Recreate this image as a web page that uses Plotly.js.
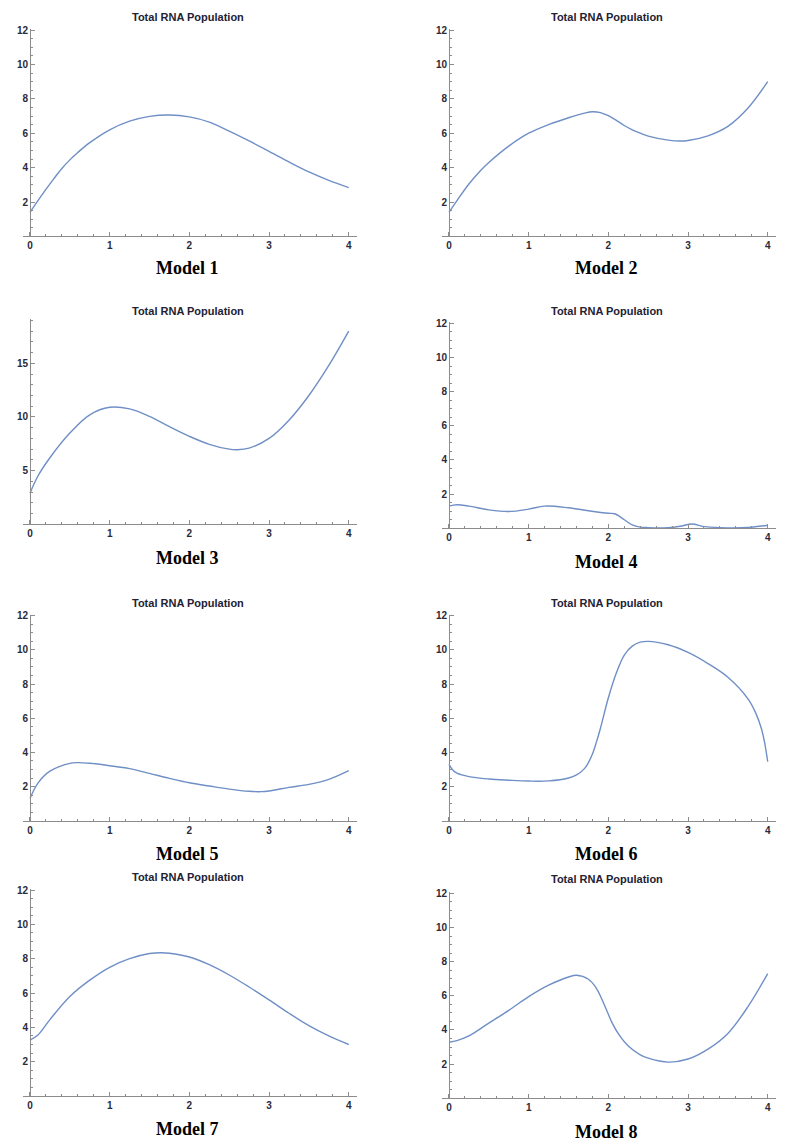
<!DOCTYPE html>
<html>
<head>
<meta charset="utf-8">
<script src="https://cdn.plot.ly/plotly-3.0.1.min.js"></script>
<style>html,body{margin:0;padding:0;background:#fff;}#chart{width:790px;height:1144px;}</style>
</head>
<body>
<div id="chart"></div>
<script>
// ---- Data ----
const modelNames = ["Model 1","Model 2","Model 3","Model 4","Model 5","Model 6","Model 7","Model 8"];
const plotTitle = "Total RNA Population";
const xTickVals = [0,1,2,3,4];

const model1X = [0,0.1,0.2,0.3,0.4,0.5,0.6,0.75,1,1.25,1.5,1.75,2,2.25,2.5,2.75,3,3.25,3.5,3.75,4];
const model1Y = [1.4,2.08,2.73,3.36,3.95,4.45,4.88,5.45,6.2,6.7,6.98,7.06,6.95,6.65,6.12,5.55,4.95,4.33,3.75,3.26,2.84];

const model2X = [0,0.1,0.25,0.4,0.5,0.75,1,1.25,1.5,1.7,1.8,1.9,2.0,2.1,2.2,2.3,2.4,2.5,2.75,2.9,3,3.25,3.5,3.75,4];
const model2Y = [1.4,2.08,3.05,3.85,4.3,5.25,6.0,6.5,6.9,7.17,7.25,7.2,7.02,6.75,6.45,6.2,6.0,5.83,5.6,5.55,5.58,5.85,6.4,7.45,9.0];

const model3X = [0,0.1,0.25,0.5,0.75,1,1.25,1.5,1.75,2,2.25,2.5,2.6,2.75,3,3.25,3.5,3.75,4];
const model3Y = [2.9,4.5,6.2,8.5,10.2,10.9,10.75,10.05,9.1,8.2,7.45,7.0,6.95,7.1,8.0,9.7,12.0,14.8,18.0];

const model4X = [0,0.1,0.25,0.5,0.75,1,1.2,1.5,1.75,2,2.08,2.2,2.3,2.4,2.5,2.75,2.9,3.05,3.2,3.4,3.75,4];
const model4Y = [1.3,1.38,1.3,1.08,0.98,1.12,1.3,1.2,1.03,0.88,0.85,0.5,0.2,0.07,0.04,0.04,0.12,0.25,0.1,0.04,0.05,0.18];

const model5X = [0,0.1,0.25,0.5,0.6,0.75,1,1.25,1.5,1.75,2,2.25,2.5,2.75,2.9,3,3.25,3.5,3.75,4];
const model5Y = [1.3,2.2,2.9,3.36,3.4,3.36,3.22,3.05,2.77,2.48,2.22,2.03,1.85,1.72,1.7,1.74,1.95,2.13,2.42,2.93];

const model6X = [0,0.05,0.1,0.25,0.5,0.75,1,1.25,1.5,1.6,1.7,1.75,1.8,1.85,1.9,2.0,2.1,2.2,2.3,2.4,2.5,2.75,3,3.25,3.5,3.75,3.85,3.92,3.96,4];
const model6Y = [3.3,2.95,2.78,2.58,2.44,2.37,2.32,2.33,2.5,2.68,3.05,3.4,3.9,4.6,5.4,7.2,8.65,9.7,10.22,10.45,10.5,10.3,9.85,9.2,8.4,7.15,6.3,5.4,4.6,3.45];

const model7X = [0,0.1,0.25,0.5,0.75,1,1.25,1.5,1.65,1.75,2,2.25,2.5,2.75,3,3.25,3.5,3.75,4];
const model7Y = [3.26,3.55,4.45,5.8,6.75,7.5,8.0,8.3,8.35,8.32,8.1,7.65,7.05,6.35,5.6,4.82,4.1,3.5,3.0];

const model8X = [0,0.1,0.25,0.5,0.75,1,1.25,1.5,1.6,1.75,1.85,1.95,2.05,2.15,2.25,2.4,2.5,2.75,3,3.25,3.5,3.75,4];
const model8Y = [3.28,3.38,3.65,4.4,5.15,5.95,6.62,7.1,7.2,6.97,6.44,5.46,4.39,3.61,3.06,2.54,2.35,2.12,2.3,2.88,3.8,5.35,7.3];

const seriesX = [model1X,model2X,model3X,model4X,model5X,model6X,model7X,model8X];
const seriesY = [model1Y,model2Y,model3Y,model4Y,model5Y,model6Y,model7Y,model8Y];
const yMax = [12.06,12.06,19.1,12.06,12.06,12.06,12.06,12.06];
const yTicks = [[2,4,6,8,10,12],[2,4,6,8,10,12],[5,10,15],[2,4,6,8,10,12],[2,4,6,8,10,12],[2,4,6,8,10,12],[2,4,6,8,10,12],[2,4,6,8,10,12]];
const yMinor = [0.5,0.5,1,0.5,0.5,0.5,0.5,0.5];

// ---- Layout geometry (pixels) ----
const W = 790, H = 1144;
const fx = v => v / W, fy = v => 1 - v / H;
const cols = [
  {x0: 23.3, x1: 356.7, yAxisX: 30, center: 188},
  {x0: 442.3, x1: 775.7, yAxisX: 449, center: 607}
];
const rows = [
  {top: 29, bot: 236.4, titleY: 17, capY: 268},
  {top: 29, bot: 236.4, titleY: 17, capY: 268},
  {top: 319.3, bot: 524.3, titleY: 310.7, capY: 558.5},
  {top: 322.3, bot: 528.3, titleY: 310.5, capY: 561.5},
  {top: 614.7, bot: 820.7, titleY: 602.7, capY: 854},
  {top: 614.7, bot: 820.7, titleY: 602.7, capY: 854},
  {top: 889, bot: 1096, titleY: 877.3, capY: 1128.5},
  {top: 892.3, bot: 1098.3, titleY: 879.3, capY: 1131.5}
];

const axisColor = '#8c8c8c';
const tickFont = {family: 'Liberation Sans, Arial, sans-serif', size: 10, color: '#2a2a3a', weight: 'bold'};

const traces = [];
const layout = {
  width: W, height: H,
  margin: {l: 0, r: 0, t: 0, b: 0},
  paper_bgcolor: '#fff', plot_bgcolor: '#fff',
  showlegend: false,
  annotations: []
};

for (let i = 0; i < 8; i++) {
  const n = i + 1;
  const c = cols[i % 2], r = rows[i];
  const xk = n === 1 ? 'xaxis' : 'xaxis' + n;
  const yk = n === 1 ? 'yaxis' : 'yaxis' + n;
  const xr = n === 1 ? 'x' : 'x' + n;
  const yr = n === 1 ? 'y' : 'y' + n;
  traces.push({
    x: seriesX[i], y: seriesY[i], xaxis: xr, yaxis: yr,
    type: 'scatter', mode: 'lines',
    line: {color: '#6f8fc6', width: 1.4, shape: 'spline', smoothing: 1},
    hoverinfo: 'skip'
  });
  layout[xk] = {
    domain: [fx(c.x0), fx(c.x1)], anchor: yr, range: [-0.084, 4.1],
    showline: true, linecolor: axisColor, linewidth: 1,
    showgrid: false, zeroline: false,
    tickmode: 'array', tickvals: xTickVals, ticktext: xTickVals.map(String),
    ticks: 'inside', ticklen: 4, tickcolor: axisColor, tickwidth: 1,
    minor: {dtick: 0.2, tick0: 0, ticks: 'inside', ticklen: 2, tickcolor: axisColor, showgrid: false},
    tickfont: tickFont, fixedrange: true
  };
  layout[yk] = {
    domain: [fy(r.bot), fy(r.top)], anchor: 'free', position: fx(c.yAxisX),
    range: [0, yMax[i]],
    showline: true, linecolor: axisColor, linewidth: 1,
    showgrid: false, zeroline: false,
    tickmode: 'array', tickvals: yTicks[i], ticktext: yTicks[i].map(String),
    ticks: 'inside', ticklen: 4, tickcolor: axisColor, tickwidth: 1,
    minor: {dtick: yMinor[i], tick0: 0, ticks: 'inside', ticklen: 2, tickcolor: axisColor, showgrid: false},
    tickfont: tickFont, fixedrange: true
  };
  layout.annotations.push({
    xref: 'paper', yref: 'paper', x: fx(c.center), y: fy(r.titleY),
    xanchor: 'center', yanchor: 'middle', showarrow: false,
    text: plotTitle,
    font: {family: 'Liberation Sans, Arial, sans-serif', size: 11, color: '#222233', weight: 'bold'}
  });
  layout.annotations.push({
    xref: 'paper', yref: 'paper', x: fx(c.center - 1), y: fy(r.capY),
    xanchor: 'center', yanchor: 'middle', showarrow: false,
    text: modelNames[i],
    font: {family: 'Liberation Serif, Times New Roman, serif', size: 18, color: '#000', weight: 'bold'}
  });
}

Plotly.newPlot('chart', traces, layout, {displayModeBar: false, staticPlot: true});
</script>
</body>
</html>
